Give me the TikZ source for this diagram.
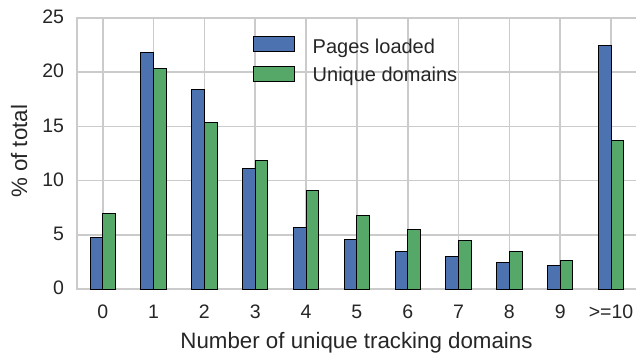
\documentclass[tikz,border=0pt]{standalone}
\usepackage{fontspec}
\setmainfont{Liberation Sans}
\definecolor{gridc}{HTML}{CBCBCB}
\definecolor{barblue}{HTML}{4C72B0}
\definecolor{bargreen}{HTML}{55A868}
\definecolor{txt}{HTML}{262626}
\tikzset{
  gridline/.style={draw=gridc, line width=1.7bp},
  bluebar/.style={fill=barblue, draw=black, line width=0.9bp},
  greenbar/.style={fill=bargreen, draw=black, line width=0.9bp},
  ticklab/.style={text=txt, font=\fontsize{19.5bp}{23bp}\selectfont, inner sep=0pt},
  leglab/.style={text=txt, font=\fontsize{20bp}{24bp}\selectfont, inner sep=0pt, anchor=base west},
  axlab/.style={text=txt, font=\fontsize{22.3bp}{26bp}\selectfont, inner sep=0pt, anchor=base}
}
\begin{document}
\begin{tikzpicture}[x=1bp,y=1bp]
\useasboundingbox (0,0) rectangle (636,356);
\fill[white] (0,0) rectangle (636,356);
\begin{scope}[shift={(102.7bp,67bp)}, x=50.83bp, y=10.84bp]
  % grid
  \foreach \v in {0,5,...,25} \draw[gridline] (-0.5,\v) -- (10.5,\v);
  \foreach \c in {0,...,10} \draw[gridline] (\c,0) -- (\c,25);
  \draw[gridline] (-0.5,0) rectangle (10.5,25);
  % bars
  \foreach \c/\b/\g in {0/4.77/6.98, 1/21.83/20.36, 2/18.45/15.4, 3/11.13/11.87,
      4/5.69/9.07, 5/4.61/6.76, 6/3.48/5.47, 7/3.04/4.49, 8/2.49/3.44,
      9/2.21/2.68, 10/22.5/13.68} {
    \draw[bluebar] (\c-0.25,0) rectangle (\c,\b);
    \draw[greenbar] (\c,0) rectangle (\c+0.25,\g);
  }
  % y tick labels
  \foreach \v in {0,5,...,25}
    \node[ticklab, anchor=east, xshift=-13bp, yshift=1bp] (yt\v) at (-0.5,\v) {\v};
  % x tick labels
  \foreach \c in {0,...,9}
    \node[ticklab, anchor=base, yshift=-29bp] (xt\c) at (\c,0) {\c};
  \node[ticklab, anchor=base, yshift=-29bp] (xt10) at (10,0) {>=10};
\end{scope}
% axis labels
\node[axlab] (xlab) at (356.5,8) {Number of unique tracking domains};
\node[axlab, rotate=90] (ylab) at (27,204.5) {\% of total};
% legend
\draw[bluebar] (253.3,319.3) rectangle (294.7,304.3);
\draw[greenbar] (253.3,289.3) rectangle (294.7,275);
\node[leglab] (leg1) at (312.5,302.7) {Pages loaded};
\node[leglab] (leg2) at (312.5,274.3) {Unique domains};
\end{tikzpicture}
\end{document}
